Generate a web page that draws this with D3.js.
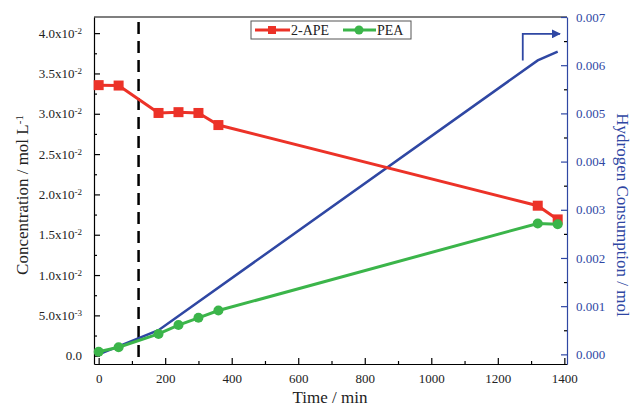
<!DOCTYPE html>
<html>
<head>
<meta charset="utf-8">
<script src="https://cdn.jsdelivr.net/npm/d3@7"></script>
<style>
  body { margin: 0; background: #fff; }
  text { font-family: "Liberation Serif", "Times New Roman", serif; }
</style>
</head>
<body>
<svg id="chart" width="633" height="413"></svg>
<script>
// data
var timeMin = [0, 60, 180, 240, 300, 360, 1320, 1380];
var apeConc = [0.03355, 0.0335, 0.0301, 0.0302, 0.0301, 0.0286, 0.0186, 0.0169];
var peaConc = [0.0005, 0.00105, 0.0027, 0.0038, 0.0047, 0.0056, 0.0164, 0.0163];
var h2Time = [0, 180, 1320, 1380];
var h2Mol = [0, 0.0005, 0.0061, 0.00628];
var leftTicks = [0, 0.005, 0.01, 0.015, 0.02, 0.025, 0.03, 0.035, 0.04];
var leftTickLabels = ["0.0", "5.0x10|-3", "1.0x10|-2", "1.5x10|-2", "2.0x10|-2", "2.5x10|-2", "3.0x10|-2", "3.5x10|-2", "4.0x10|-2"];
var rightTicks = [0, 0.001, 0.002, 0.003, 0.004, 0.005, 0.006, 0.007];
var xTicks = [0, 200, 400, 600, 800, 1000, 1200, 1400];
var dashTime = 120;

var red = '#ec3228', green = '#3bb54a', blue = '#2f47a3';

var svg = d3.select('#chart');
var margin = {top: 17, right: 66, bottom: 49, left: 94};
var width = 633 - margin.left - margin.right;
var height = 413 - margin.top - margin.bottom;

var g = svg.append('g').attr('transform', `translate(${margin.left},${margin.top})`);

var x = d3.scaleLinear().domain([-14, 1408]).range([0, width]);
var y = d3.scaleLinear().domain([-0.00103, 0.042]).range([height, 0]);
var y2 = d3.scaleLinear().domain([-0.0002, 0.007]).range([height, 0]);

// frame top line
g.append('line').attr('x1', 0).attr('x2', width).attr('y1', 0).attr('y2', 0)
    .attr('stroke', '#000').attr('stroke-width', 1.2);

// bottom axis
var xAxis = g.append('g').attr('transform', `translate(0,${height})`)
    .call(d3.axisBottom(x).tickValues(xTicks).tickSizeInner(-6).tickSizeOuter(0).tickPadding(10).tickFormat(d3.format('d')));
g.append('g').attr('transform', `translate(0,${height})`)
    .call(d3.axisBottom(x).tickValues(d3.range(100, 1400, 200)).tickSizeInner(-3).tickSizeOuter(0).tickFormat(''))
    .select('.domain').remove();

// left axis
var yAxis = g.append('g')
    .call(d3.axisLeft(y).tickValues(leftTicks).tickSizeInner(-6).tickSizeOuter(0).tickPadding(10).tickFormat(''));
g.append('g')
    .call(d3.axisLeft(y).tickValues(d3.range(0.0025, 0.042, 0.005)).tickSizeInner(-3).tickSizeOuter(0).tickFormat(''))
    .select('.domain').remove();

// left tick labels with superscript exponents
leftTicks.forEach(function(v, i) {
    var parts = leftTickLabels[i].split('|');
    var t = g.append('text').attr('x', -12).attr('y', y(v)).attr('dy', '0.35em')
        .attr('text-anchor', 'end').attr('font-size', 13).attr('fill', '#222');
    t.append('tspan').text(parts[0]);
    if (parts[1]) {
        t.append('tspan').attr('dy', '-0.45em').attr('font-size', 9).text(parts[1]);
    }
});

// right axis
var yAxis2 = g.append('g').attr('transform', `translate(${width},0)`)
    .call(d3.axisRight(y2).tickValues(rightTicks).tickSizeInner(-6).tickSizeOuter(0).tickPadding(9).tickFormat(d3.format('.3f')));
g.append('g').attr('transform', `translate(${width},0)`)
    .call(d3.axisRight(y2).tickValues(d3.range(0.0005, 0.007, 0.001)).tickSizeInner(-3).tickSizeOuter(0).tickFormat(''))
    .select('.domain').remove();

[xAxis, yAxis].forEach(function(a) {
    a.selectAll('text').attr('font-size', 13).attr('fill', '#222');
    a.selectAll('line, path').attr('stroke', '#000').attr('stroke-width', 1.2);
});
yAxis2.selectAll('text').attr('font-size', 13).attr('fill', blue);
yAxis2.selectAll('line, path').attr('stroke', blue).attr('stroke-width', 1.2);
g.selectAll('.tick line').attr('stroke-width', 1.2);

// dashed marker at 120 min
g.append('line')
    .attr('x1', x(dashTime)).attr('x2', x(dashTime))
    .attr('y1', 5).attr('y2', height)
    .attr('stroke', '#000').attr('stroke-width', 2.5)
    .attr('stroke-dasharray', '12,7');

// hydrogen line
var h2Data = h2Time.map(function(t, i) { return [t, h2Mol[i]]; });
g.append('path').datum(h2Data)
    .attr('fill', 'none').attr('stroke', blue).attr('stroke-width', 2.5)
    .attr('d', d3.line().x(d => x(d[0])).y(d => y2(d[1])));

// concentration series
var apeData = timeMin.map(function(t, i) { return [t, apeConc[i]]; });
var peaData = timeMin.map(function(t, i) { return [t, peaConc[i]]; });
var line = d3.line().x(d => x(d[0])).y(d => y(d[1]));

g.append('path').datum(apeData)
    .attr('fill', 'none').attr('stroke', red).attr('stroke-width', 3).attr('d', line);
g.selectAll('.sq').data(apeData).enter().append('rect')
    .attr('class', 'sq')
    .attr('x', d => x(d[0]) - 5).attr('y', d => y(d[1]) - 5)
    .attr('width', 10).attr('height', 10).attr('fill', red);

g.append('path').datum(peaData)
    .attr('fill', 'none').attr('stroke', green).attr('stroke-width', 3).attr('d', line);
g.selectAll('.dot').data(peaData).enter().append('circle')
    .attr('class', 'dot')
    .attr('cx', d => x(d[0])).attr('cy', d => y(d[1]))
    .attr('r', 5).attr('fill', green);

// arrow pointing to right axis
var arrowX = x(1275), arrowY0 = y2(0.0061), arrowY1 = y2(0.00665);
svg.append('defs').append('marker')
    .attr('id', 'arrowhead')
    .attr('viewBox', '0 0 10 10')
    .attr('refX', 9).attr('refY', 5)
    .attr('markerWidth', 5).attr('markerHeight', 5)
    .attr('orient', 'auto')
    .append('path').attr('d', 'M 0 0 L 10 5 L 0 10 Z').attr('fill', blue);
g.append('path')
    .attr('d', `M${arrowX},${arrowY0} L${arrowX},${arrowY1} L${width - 7},${arrowY1}`)
    .attr('fill', 'none').attr('stroke', blue).attr('stroke-width', 1.8)
    .attr('marker-end', 'url(#arrowhead)');

// legend
var leg = svg.append('g').attr('transform', 'translate(251,21)');
leg.append('rect').attr('width', 160).attr('height', 18)
    .attr('fill', '#fff').attr('stroke', '#555').attr('stroke-width', 1);
leg.append('line').attr('x1', 4).attr('x2', 39).attr('y1', 9).attr('y2', 9)
    .attr('stroke', red).attr('stroke-width', 3);
leg.append('rect').attr('x', 17).attr('y', 5).attr('width', 8).attr('height', 8).attr('fill', red);
leg.append('text').attr('x', 40).attr('y', 14).attr('font-size', 14).attr('fill', '#222').text('2-APE');
leg.append('line').attr('x1', 92).attr('x2', 125).attr('y1', 9).attr('y2', 9)
    .attr('stroke', green).attr('stroke-width', 3);
leg.append('circle').attr('cx', 108).attr('cy', 9).attr('r', 4.5).attr('fill', green);
leg.append('text').attr('x', 126).attr('y', 14).attr('font-size', 14).attr('fill', '#222').text('PEA');

// axis titles
svg.append('text')
    .attr('x', 330).attr('y', 403).attr('text-anchor', 'middle')
    .attr('font-size', 17).attr('fill', '#222').text('Time / min');

var yl = svg.append('text')
    .attr('transform', 'translate(28,195) rotate(-90)')
    .attr('text-anchor', 'middle').attr('font-size', 17).attr('fill', '#222');
yl.append('tspan').text('Concentration / mol L');
yl.append('tspan').attr('dy', '-0.45em').attr('font-size', 11).text('-1');

svg.append('text')
    .attr('transform', 'translate(617,215) rotate(90)')
    .attr('text-anchor', 'middle').attr('font-size', 17).attr('fill', blue)
    .text('Hydrogen Consumption / mol');
</script>
</body>
</html>
